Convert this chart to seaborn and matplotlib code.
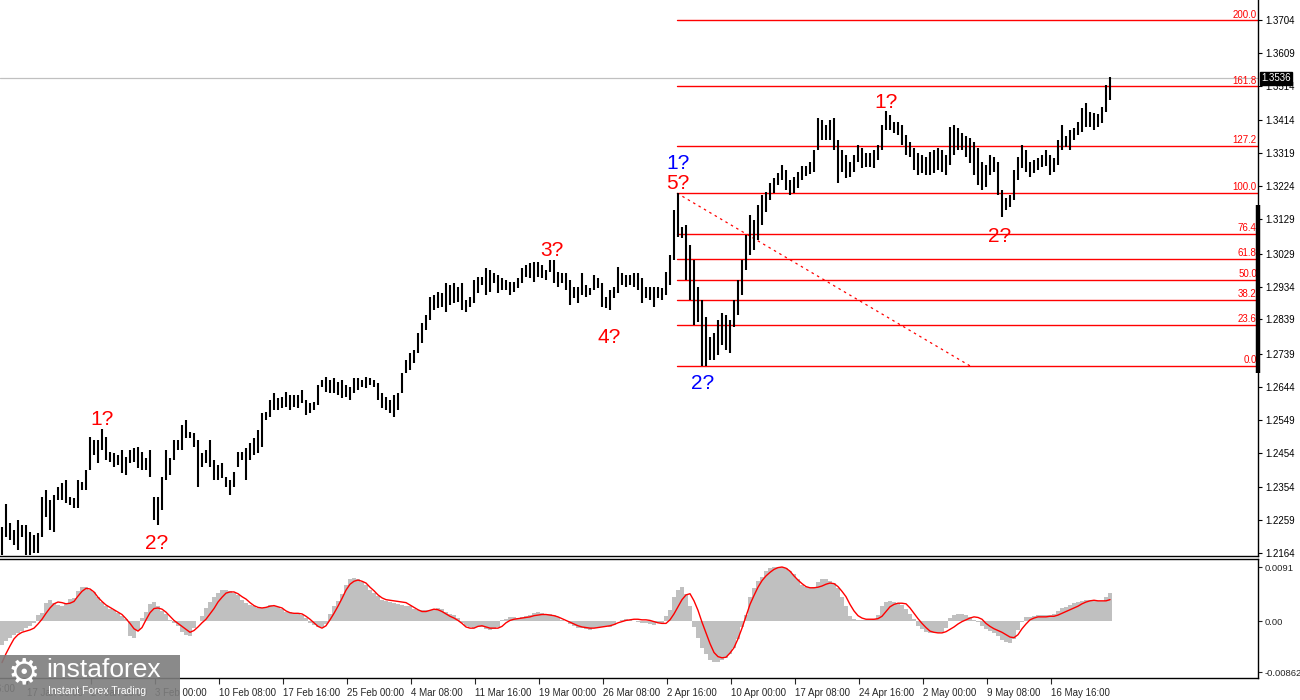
import matplotlib
matplotlib.use("Agg")
import matplotlib.pyplot as plt
import matplotlib.transforms as mtransforms
from matplotlib.patches import Rectangle
import numpy as np
import seaborn as sns

# bar highs / lows in pips (1.0000 = 10000), one entry per bar
bar_high = [
    12240, 12305, 12251, 12231, 12260, 12246, 12246, 12225, 12217, 12222,
    12326, 12346, 12317, 12332, 12355, 12366, 12375, 12326, 12323, 12375,
    12369, 12404, 12500, 12491, 12491, 12523, 12500, 12456, 12453, 12448,
    12462, 12442, 12462, 12468, 12471, 12456, 12439, 12462, 12326, 12326,
    12384, 12462, 12439, 12491, 12491, 12535, 12549, 12514, 12511, 12491,
    12453, 12462, 12491, 12433, 12419, 12424, 12384, 12375, 12398, 12456,
    12456, 12468, 12482, 12497, 12520, 12568, 12571, 12606, 12626, 12612,
    12615, 12629, 12621, 12621, 12621, 12635, 12606, 12597, 12600, 12650,
    12664, 12673, 12664, 12670, 12658, 12664, 12650, 12644, 12670, 12670,
    12664, 12673, 12670, 12664, 12655, 12626, 12615, 12606, 12621, 12626,
    12684, 12722, 12742, 12751, 12800, 12829, 12852, 12904, 12910, 12918,
    12915, 12944, 12939, 12944, 12933, 12944, 12895, 12904, 12953, 12962,
    12962, 12988, 12982, 12973, 12968, 12959, 12953, 12947, 12947, 12959,
    12988, 12997, 13002, 13005, 13005, 12997, 12982, 13011, 13011, 12976,
    12973, 12973, 12953, 12933, 12933, 12973, 12939, 12930, 12968, 12959,
    12944, 12904, 12924, 12933, 12991, 12973, 12968, 12968, 12973, 12973,
    12959, 12933, 12933, 12933, 12933, 12930, 12976, 13026, 13155, 13204,
    13106, 13112, 13055, 13011, 12933, 12895, 12846, 12788, 12800, 12838,
    12858, 12852, 12838, 12895, 12953, 13011, 13083, 13141, 13126, 13169,
    13198, 13207, 13233, 13248, 13262, 13285, 13271, 13242, 13251, 13265,
    13282, 13282, 13294, 13329, 13421, 13415, 13401, 13415, 13421, 13358,
    13329, 13314, 13294, 13314, 13343, 13335, 13320, 13320, 13329, 13343,
    13401, 13441, 13430, 13409, 13409, 13401, 13372, 13352, 13335, 13320,
    13314, 13309, 13323, 13329, 13335, 13329, 13314, 13395, 13401, 13392,
    13378, 13369, 13363, 13352, 13335, 13294, 13285, 13314, 13309, 13294,
    13213, 13190, 13198, 13271, 13309, 13343, 13329, 13294, 13300, 13306,
    13314, 13329, 13314, 13306, 13358, 13401, 13369, 13386, 13392, 13409,
    13450, 13464, 13438, 13435, 13433, 13453, 13516, 13540,
]
bar_low = [
    12159, 12211, 12202, 12188, 12173, 12211, 12159, 12159, 12164, 12164,
    12211, 12268, 12231, 12225, 12317, 12317, 12308, 12303, 12294, 12294,
    12346, 12346, 12404, 12448, 12424, 12462, 12433, 12427, 12413, 12419,
    12395, 12390, 12424, 12427, 12410, 12404, 12404, 12384, 12260, 12246,
    12288, 12375, 12390, 12433, 12462, 12462, 12497, 12497, 12471, 12355,
    12413, 12424, 12413, 12375, 12375, 12381, 12355, 12332, 12355, 12413,
    12433, 12375, 12433, 12448, 12453, 12471, 12549, 12557, 12577, 12577,
    12583, 12586, 12577, 12586, 12583, 12597, 12563, 12568, 12577, 12592,
    12644, 12629, 12626, 12626, 12621, 12612, 12615, 12606, 12626, 12635,
    12644, 12641, 12650, 12644, 12606, 12583, 12577, 12568, 12557, 12577,
    12626, 12684, 12693, 12713, 12742, 12771, 12809, 12838, 12866, 12872,
    12875, 12860, 12881, 12886, 12889, 12866, 12860, 12875, 12886, 12915,
    12939, 12910, 12918, 12944, 12915, 12924, 12924, 12910, 12918, 12930,
    12944, 12962, 12959, 12947, 12962, 12959, 12953, 12976, 12944, 12933,
    12944, 12924, 12881, 12901, 12886, 12910, 12904, 12910, 12924, 12930,
    12875, 12872, 12866, 12901, 12915, 12939, 12933, 12939, 12933, 12924,
    12886, 12901, 12895, 12875, 12901, 12895, 12910, 12939, 13011, 13078,
    13075, 12953, 12895, 12824, 12832, 12705, 12705, 12722, 12722, 12737,
    12766, 12751, 12742, 12818, 12852, 12910, 12982, 13026, 13040, 13069,
    13112, 13149, 13184, 13204, 13227, 13242, 13213, 13198, 13204, 13219,
    13242, 13253, 13259, 13265, 13329, 13358, 13358, 13358, 13329, 13233,
    13265, 13248, 13251, 13265, 13294, 13277, 13280, 13280, 13277, 13300,
    13329, 13386, 13386, 13377, 13372, 13343, 13314, 13309, 13271, 13256,
    13262, 13256, 13256, 13262, 13271, 13265, 13256, 13285, 13314, 13329,
    13329, 13309, 13291, 13256, 13227, 13213, 13222, 13256, 13265, 13198,
    13135, 13155, 13164, 13184, 13242, 13277, 13265, 13251, 13262, 13271,
    13280, 13282, 13256, 13265, 13285, 13329, 13337, 13329, 13358, 13372,
    13380, 13395, 13395, 13386, 13395, 13407, 13438, 13473,
]

# MACD main (histogram) and signal line, in units of 0.0001
macd_main = [
    -40, -33, -28, -24, -20, -16, -12, -8, -3, 10,
    14, 30, 35, 30, 27, 26, 28, 37, 39, 50,
    57, 58, 52, 49, 40, 32, 26, 20, 18, 14,
    8, 3, -25, -29, -15, 5, 15, 28, 32, 25,
    17, 12, 2, -3, -8, -18, -24, -25, -12, 0,
    8, 22, 32, 40, 48, 52, 53, 50, 47, 44,
    36, 30, 27, 25, 22, 22, 24, 27, 26, 24,
    20, 16, 15, 13, 13, 10, 5, -3, -6, -10,
    -10, -5, 12, 25, 33, 45, 60, 70, 72, 70,
    66, 60, 52, 48, 42, 36, 33, 32, 30, 28,
    27, 26, 25, 21, 19, 18, 18, 19, 21, 22,
    20, 16, 12, 10, 5, -3, -8, -10, -11, -10,
    -10, -13, -15, -14, -10, 2, 4, 6, 7, 5,
    6, 8, 10, 13, 15, 14, 12, 12, 10, 6,
    2, 0, -5, -8, -12, -12, -14, -15, -12, -10,
    -10, -8, -10, -6, 0, 2, 3, 2, 0, -2,
    -3, -4, -5, -6, -4, -3, 8, 18, 40, 52,
    57, 45, 25, -10, -28, -45, -55, -65, -69, -69,
    -65, -62, -55, -45, -30, -10, 10, 40, 56, 68,
    75, 85, 89, 91, 91, 91, 89, 84, 80, 70,
    60, 57, 56, 58, 65, 70, 70, 68, 64, 55,
    40, 25, 8, 3, 2, 2, 1, 2, 3, 10,
    25, 32, 33, 32, 30, 27, 20, 12, 3, -8,
    -14, -18, -20, -20, -20, -18, -12, 5, 10, 12,
    12, 10, 6, 2, -2, -8, -14, -16, -20, -26,
    -32, -36, -37, -30, -15, -2, 6, 7, 8, 10,
    10, 10, 10, 12, 17, 22, 24, 27, 30, 32,
    33, 35, 35, 34, 33, 34, 40, 47,
]
macd_signal = [
    -70, -55, -42, -30, -23, -19, -17, -15, -12, -5,
    3, 13, 22, 29, 32, 31, 29, 30, 33, 42,
    50, 55, 54, 49, 40, 33, 27, 23, 19, 15,
    11, 4, -4, -13, -17, -11, 2, 14, 21, 22,
    20, 15, 8, 1, -4, -9, -14, -19, -16, -10,
    -3, 3, 12, 21, 32, 40, 47, 49, 49, 46,
    41, 37, 31, 26, 23, 22, 23, 25, 26, 24,
    22, 17, 14, 13, 13, 12, 8, 3, -3, -9,
    -12, -8, 2, 13, 25, 38, 52, 62, 67, 69,
    67, 64, 57, 51, 44, 39, 36, 35, 34, 33,
    32, 31, 27, 23, 19, 16, 16, 18, 20, 19,
    16, 12, 8, 5, 1, -4, -10, -12, -12, -9,
    -8, -10, -12, -12, -12, -9, -3, 1, 3, 4,
    5, 6, 7, 9, 10, 11, 11, 10, 9, 7,
    4, 1, -2, -5, -8, -10, -11, -12, -12, -11,
    -10, -9, -8, -6, -3, -1, 1, 2, 3, 3,
    2, 2, 1, -1, -3, -4, -4, 2, 12, 24,
    36, 44, 46, 34, 18, -2, -20, -38, -53, -60,
    -62, -61, -54, -45, -30, -12, 8, 28, 43, 57,
    68, 76, 82, 87, 90, 91, 89, 84, 76, 69,
    63, 58, 56, 56, 57, 59, 62, 64, 63, 58,
    50, 41, 28, 17, 9, 5, 3, 3, 3, 4,
    8, 16, 24, 28, 30, 30, 29, 22, 13, 4,
    -4, -11, -17, -19, -20, -20, -18, -14, -10, -5,
    -1, 2, 5, 7, 6, 3, -4, -9, -13, -16,
    -19, -23, -27, -28, -23, -13, -5, 2, 5, 7,
    7, 7, 8, 8, 10, 13, 16, 19, 22, 25,
    29, 32, 34, 35, 34, 34, 34, 36,
]

price_ticks = [1.3704, 1.3609, 1.3514, 1.3414, 1.3319, 1.3224, 1.3129, 1.3029, 1.2934,
               1.2839, 1.2739, 1.2644, 1.2549, 1.2454, 1.2354, 1.2259, 1.2164]
macd_ticks = [0.0091, 0.0, -0.00862]
macd_tick_labels = ["0.0091", "0.00", "-0.00862"]
time_labels = ["17 Jan 00:00", "24 Jan 16:00", "3 Feb 00:00", "10 Feb 08:00", "17 Feb 16:00",
               "25 Feb 00:00", "4 Mar 08:00", "11 Mar 16:00", "19 Mar 00:00", "26 Mar 08:00",
               "2 Apr 16:00", "10 Apr 00:00", "17 Apr 08:00", "24 Apr 16:00", "2 May 00:00",
               "9 May 08:00", "16 May 16:00"]
last_price = 1.3536

# fibonacci grid drawn from the 1?/5? high to the 2? low
fib_levels = [0.0, 23.6, 38.2, 50.0, 61.8, 76.4, 100.0, 127.2, 161.8, 200.0]
fib_low = 1.2705
fib_high = 1.3204
fib_start_bar = 168.75
fib_end_bar = 242.0

# wave count labels: text, bar, price, colour
wave_labels = [
    ("1?", 25.0, 1.2549, "red"),
    ("2?", 38.75, 1.2193, "red"),
    ("3?", 137.5, 1.3037, "red"),
    ("4?", 151.75, 1.2788, "red"),
    ("1?", 169.0, 1.3291, "blue"),
    ("5?", 169.0, 1.3233, "red"),
    ("2?", 175.25, 1.2655, "blue"),
    ("1?", 221.0, 1.3467, "red"),
    ("2?", 249.5, 1.3080, "red"),
]

sns.set_style("white")
plt.rcParams["font.family"] = ["Liberation Sans", "DejaVu Sans"]

W, H = 1300, 700
fig = plt.figure(figsize=(13, 7), dpi=100)
ax = fig.add_axes([0, 1 - 556 / H, 1258 / W, 556 / H])
ax2 = fig.add_axes([0, 1 - 678 / H, 1258 / W, 119 / H])

xmax = 314.0
highs = np.array(bar_high) / 1e4
lows = np.array(bar_low) / 1e4
idx = np.arange(len(highs))

# price bars
ax.vlines(idx, lows, highs, color="black", lw=1.5, zorder=3)
ax.axhline(last_price, color="#c0c0c0", lw=0.9, zorder=1)

# fibonacci lines and labels
span = fib_high - fib_low
for lvl in fib_levels:
    p = fib_low + span * lvl / 100
    ax.plot([fib_start_bar, xmax], [p, p], color="red", lw=1, zorder=2)
    ax.text(xmax - 0.3, p + 0.0002, f"{lvl:.1f}", color="red", fontsize=7,
            ha="right", va="bottom", zorder=4)
ax.plot([fib_start_bar, fib_end_bar], [fib_high, fib_low], color="red", lw=0.9,
        ls=(0, (2, 3)), zorder=2)

for txt, bx, py, col in wave_labels:
    ax.text(bx, py, txt, color=col, fontsize=15, ha="center", va="center", zorder=5)

ax.set_xlim(-0.5, xmax)
ax.set_ylim(1.3762 - 556 * 0.0002889, 1.3762)
ax.yaxis.tick_right()
ax.set_yticks(price_ticks)
ax.set_yticklabels([f"{t:.4f}" for t in price_ticks], fontsize=7)
ax.tick_params(axis="y", length=3, width=0.8, pad=2, colors="black", right=True)
ax.set_xticks([])
for s in ["top", "left"]:
    ax.spines[s].set_visible(False)
for s in ["right", "bottom"]:
    ax.spines[s].set_color("black")
    ax.spines[s].set_linewidth(1)

# thick marker on the price scale
ax.plot([xmax, xmax], [1.3170, 1.2684], color="black", lw=3.2, clip_on=False,
        solid_capstyle="butt", zorder=6)

# last price box
trans = mtransforms.blended_transform_factory(ax.transAxes, ax.transData)
ax.text(1.0025, last_price, f"{last_price:.4f}", transform=trans, color="white",
        fontsize=7, ha="left", va="center", zorder=7,
        bbox=dict(boxstyle="square,pad=0.15", fc="black", ec="black"))

# MACD panel
hist = np.array(macd_main) / 1e4
sig = np.array(macd_signal) / 1e4
ax2.bar(np.arange(len(hist)), hist, width=1.0, color="#c0c0c0", lw=0, zorder=2)
sns.lineplot(x=np.arange(len(sig)), y=sig, ax=ax2, color="red", lw=1, zorder=3)
ax2.set_xlim(-0.5, xmax)
ax2.set_ylim(-0.0096, 0.01045)
ax2.yaxis.tick_right()
ax2.set_yticks(macd_ticks)
ax2.set_yticklabels(macd_tick_labels, fontsize=6.8)
ax2.tick_params(axis="y", length=3, width=0.8, pad=1.5, right=True)
tick_pos = 6.25 + 16 * np.arange(len(time_labels))
ax2.set_xticks(tick_pos)
ax2.set_xticklabels(time_labels, fontsize=7, ha="left")
ax2.tick_params(axis="x", length=4, width=0.8, pad=3, bottom=True)
ax2.set_xlabel("")
ax2.set_ylabel("")
ax2.spines["left"].set_visible(False)
for s in ["right", "bottom", "top"]:
    ax2.spines[s].set_color("black")
    ax2.spines[s].set_linewidth(1)

fig.text(15 / W, 1 - 689 / H, "9 Jan 16:00", fontsize=7, ha="right", va="center")

# watermark
fig.add_artist(Rectangle((0, 0), 180 / W, 45 / H, transform=fig.transFigure,
                         fc="#7d7d7d", ec="none", alpha=0.9, zorder=10))
fig.text(24 / W, 1 - 673 / H, "\u2699", fontsize=26, color="white", ha="center",
         va="center", family="DejaVu Sans", zorder=11)
fig.text(46 / W, 1 - 670 / H, "instaforex", fontsize=19, color="white", ha="left",
         va="center", zorder=11)
fig.text(48 / W, 1 - 691 / H, "Instant Forex Trading", fontsize=7.5, color="white",
         ha="left", va="center", zorder=11)

fig.savefig("out.png", dpi=100)
